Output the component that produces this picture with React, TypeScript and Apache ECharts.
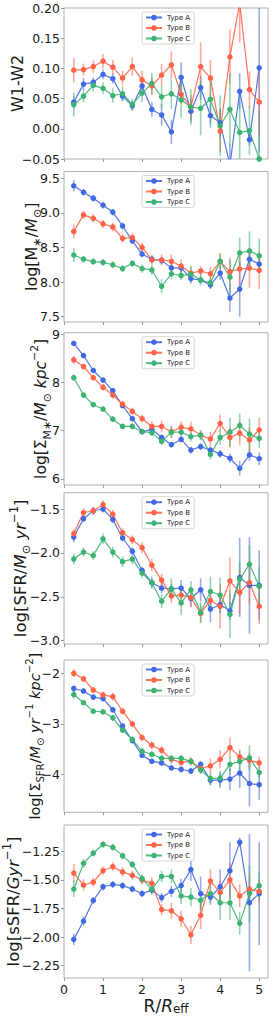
import React, { useEffect, useRef } from "react";
import * as echarts from "echarts";

// radius bins (R / R_eff)
const radii = [0.25, 0.5, 0.75, 1.0, 1.25, 1.5, 1.75, 2.0, 2.25, 2.5, 2.75, 3.0, 3.25, 3.5, 3.75, 4.0, 4.25, 4.5, 4.75, 5.0];
const seriesNames = ["Type A", "Type B", "Type C"];
const xTicks = [0, 1, 2, 3, 4, 5];

// Panel 1: W1-W2
const w12A = [0.044, 0.074, 0.077, 0.090, 0.083, 0.054, 0.038, 0.071, 0.032, 0.023, -0.005, 0.085, 0.029, 0.068, 0.022, 0.010, -0.060, 0.062, -0.018, 0.101];
const w12AErr = [0.010, 0.010, 0.008, 0.008, 0.008, 0.008, 0.008, 0.010, 0.012, 0.018, 0.020, 0.025, 0.018, 0.020, 0.020, 0.025, 0.035, 0.030, 0.010, 0.140];
const w12B = [0.097, 0.098, 0.103, 0.112, 0.102, 0.084, 0.103, 0.081, 0.071, 0.089, 0.106, 0.057, 0.036, 0.103, 0.084, -0.004, 0.119, 0.208, 0.065, 0.044];
const w12BErr = [0.020, 0.010, 0.010, 0.012, 0.012, 0.012, 0.015, 0.015, 0.015, 0.018, 0.022, 0.015, 0.020, 0.040, 0.030, 0.035, 0.045, 0.065, 0.030, 0.060];
const w12C = [0.040, 0.054, 0.072, 0.067, 0.055, 0.058, 0.040, 0.059, 0.075, 0.053, 0.058, 0.048, 0.036, 0.034, 0.049, 0.005, 0.032, -0.006, -0.003, -0.050];
const w12CErr = [0.020, 0.010, 0.010, 0.010, 0.012, 0.012, 0.010, 0.015, 0.018, 0.018, 0.025, 0.030, 0.030, 0.045, 0.040, 0.050, 0.060, 0.050, 0.040, 0.080];
const w12Ticks = [-0.05, 0.0, 0.05, 0.1, 0.15, 0.2];

// Panel 2: log M*
const mA = [9.39, 9.295, 9.21, 9.11, 9.01, 8.81, 8.595, 8.405, 8.33, 8.31, 8.205, 8.205, 8.05, 8.03, 7.96, 8.13, 7.77, 7.90, 8.33, 8.26];
const mAErr = [0.08, 0.05, 0.05, 0.05, 0.05, 0.05, 0.05, 0.05, 0.05, 0.05, 0.05, 0.06, 0.07, 0.05, 0.06, 0.10, 0.20, 0.40, 0.12, 0.08];
const mB = [8.73, 8.97, 8.92, 8.84, 8.795, 8.63, 8.64, 8.50, 8.32, 8.32, 8.30, 8.23, 8.13, 8.16, 8.12, 8.30, 8.15, 8.19, 8.20, 8.17];
const mBErr = [0.10, 0.06, 0.06, 0.06, 0.06, 0.06, 0.07, 0.07, 0.07, 0.08, 0.10, 0.10, 0.08, 0.07, 0.10, 0.12, 0.20, 0.25, 0.28, 0.27];
const mC = [8.39, 8.33, 8.295, 8.285, 8.25, 8.195, 8.27, 8.195, 8.175, 7.94, 8.12, 8.095, 8.115, 8.03, 7.99, 8.30, 8.07, 8.42, 8.45, 8.38];
const mCErr = [0.10, 0.05, 0.05, 0.05, 0.05, 0.05, 0.05, 0.06, 0.07, 0.10, 0.08, 0.07, 0.12, 0.08, 0.08, 0.10, 0.25, 0.22, 0.28, 0.25];
const mTicks = [7.5, 8.0, 8.5, 9.0, 9.5];

// Panel 3: log Sigma_M*
const smA = [8.81, 8.56, 8.25, 8.05, 7.83, 7.52, 7.25, 6.98, 7.03, 6.86, 6.71, 6.82, 6.60, 6.67, 6.60, 6.52, 6.43, 6.22, 6.50, 6.42];
const smAErr = [0.05, 0.04, 0.04, 0.04, 0.04, 0.04, 0.05, 0.05, 0.05, 0.05, 0.05, 0.06, 0.07, 0.07, 0.07, 0.08, 0.10, 0.15, 0.12, 0.13];
const smB = [8.47, 8.33, 8.10, 7.90, 7.74, 7.55, 7.40, 7.25, 7.09, 7.09, 6.98, 7.07, 7.04, 6.91, 6.83, 7.15, 6.86, 6.95, 6.81, 7.02];
const smBErr = [0.08, 0.06, 0.06, 0.07, 0.07, 0.07, 0.08, 0.08, 0.10, 0.12, 0.12, 0.12, 0.15, 0.10, 0.15, 0.18, 0.20, 0.25, 0.25, 0.25];
const smC = [8.10, 7.74, 7.54, 7.45, 7.24, 7.09, 7.09, 6.98, 6.96, 6.78, 6.97, 6.97, 6.88, 6.91, 6.51, 6.86, 6.97, 7.11, 6.93, 6.84];
const smCErr = [0.07, 0.05, 0.05, 0.05, 0.06, 0.06, 0.06, 0.06, 0.07, 0.07, 0.12, 0.10, 0.10, 0.10, 0.10, 0.15, 0.30, 0.25, 0.32, 0.20];
const smTicks = [6, 7, 8, 9];

// Panel 4: log SFR
const sfA = [-1.82, -1.61, -1.52, -1.50, -1.62, -1.83, -1.98, -2.20, -2.34, -2.40, -2.41, -2.40, -2.52, -2.42, -2.64, -2.59, -2.66, -2.28, -2.37, -2.37];
const sfAErr = [0.06, 0.04, 0.04, 0.04, 0.04, 0.04, 0.04, 0.04, 0.05, 0.06, 0.06, 0.09, 0.10, 0.13, 0.15, 0.10, 0.10, 0.45, 0.55, 0.40];
const sfB = [-1.78, -1.54, -1.52, -1.45, -1.56, -1.77, -1.85, -1.94, -2.14, -2.31, -2.49, -2.48, -2.51, -2.69, -2.54, -2.61, -2.32, -2.45, -2.34, -2.61];
const sfBErr = [0.05, 0.05, 0.05, 0.05, 0.05, 0.05, 0.05, 0.06, 0.07, 0.07, 0.08, 0.08, 0.10, 0.10, 0.12, 0.25, 0.27, 0.25, 0.25, 0.20];
const sfC = [-2.07, -1.99, -2.03, -1.84, -1.99, -2.10, -2.07, -2.23, -2.34, -2.55, -2.41, -2.57, -2.42, -2.68, -2.44, -2.48, -2.70, -2.30, -2.13, -2.38];
const sfCErr = [0.06, 0.05, 0.05, 0.06, 0.06, 0.06, 0.06, 0.06, 0.07, 0.08, 0.12, 0.14, 0.10, 0.12, 0.17, 0.20, 0.27, 0.20, 0.22, 0.22];
const sfTicks = [-3.0, -2.5, -2.0, -1.5];

// Panel 5: log Sigma_SFR
const ssA = [-2.30, -2.35, -2.47, -2.50, -2.72, -3.04, -3.33, -3.62, -3.74, -3.77, -3.87, -3.90, -3.93, -3.80, -4.11, -4.11, -4.09, -3.97, -4.18, -4.20];
const ssAErr = [0.06, 0.05, 0.05, 0.05, 0.05, 0.05, 0.05, 0.05, 0.05, 0.05, 0.05, 0.06, 0.06, 0.07, 0.10, 0.15, 0.22, 0.30, 0.45, 0.30];
const ssB = [-2.00, -2.11, -2.33, -2.43, -2.46, -2.75, -3.00, -3.27, -3.42, -3.52, -3.70, -3.76, -3.74, -3.88, -3.83, -3.70, -3.47, -3.65, -3.72, -3.77];
const ssBErr = [0.08, 0.06, 0.06, 0.07, 0.07, 0.07, 0.07, 0.07, 0.08, 0.08, 0.08, 0.08, 0.08, 0.10, 0.15, 0.18, 0.20, 0.15, 0.15, 0.12];
const ssC = [-2.42, -2.58, -2.75, -2.76, -2.88, -3.12, -3.31, -3.54, -3.60, -3.68, -3.68, -3.68, -3.74, -3.91, -4.08, -4.07, -3.80, -3.74, -3.67, -3.96];
const ssCErr = [0.08, 0.05, 0.05, 0.05, 0.06, 0.06, 0.06, 0.06, 0.06, 0.06, 0.07, 0.07, 0.07, 0.08, 0.12, 0.15, 0.15, 0.20, 0.25, 0.12];
const ssTicks = [-4, -3, -2];

// Panel 6: log sSFR
const spA = [-2.02, -1.86, -1.68, -1.56, -1.54, -1.55, -1.58, -1.62, -1.59, -1.655, -1.60, -1.55, -1.41, -1.62, -1.65, -1.56, -1.42, -1.17, -1.70, -1.62];
const spAErr = [0.05, 0.04, 0.03, 0.03, 0.03, 0.03, 0.03, 0.03, 0.03, 0.04, 0.05, 0.06, 0.10, 0.15, 0.05, 0.15, 0.25, 0.04, 0.60, 0.45];
const spB = [-1.44, -1.545, -1.52, -1.42, -1.385, -1.43, -1.46, -1.50, -1.53, -1.76, -1.77, -1.84, -1.98, -1.81, -1.51, -1.61, -1.50, -1.64, -1.58, -1.60];
const spBErr = [0.08, 0.05, 0.04, 0.04, 0.04, 0.04, 0.04, 0.04, 0.05, 0.05, 0.07, 0.07, 0.08, 0.12, 0.10, 0.10, 0.15, 0.10, 0.12, 0.10];
const spC = [-1.58, -1.355, -1.265, -1.19, -1.215, -1.29, -1.365, -1.49, -1.58, -1.47, -1.47, -1.64, -1.65, -1.68, -1.62, -1.70, -1.70, -1.88, -1.62, -1.55];
const spCErr = [0.07, 0.04, 0.03, 0.03, 0.03, 0.03, 0.03, 0.04, 0.05, 0.05, 0.06, 0.07, 0.08, 0.08, 0.10, 0.15, 0.15, 0.10, 0.25, 0.12];
const spTicks = [-2.25, -2.0, -1.75, -1.5, -1.25];

const COLORS = ["#4169E1", "#FF6347", "#3CB371"];
const FONT = "DejaVu Sans";

const GRID_LEFT = 64;
const GRID_WIDTH = 204;

type Panel = {
  top: number;
  height: number;
  min: number;
  max: number;
  ticks: number[];
  decimals: number;
  data: [number[], number[]][];
  label: string;
  labelX: number;
  fs: number;
};

const panels: Panel[] = [
  { top: 8, height: 151, min: -0.05, max: 0.2, ticks: w12Ticks, decimals: 2, data: [[w12A, w12AErr], [w12B, w12BErr], [w12C, w12CErr]], label: "{n|W1-W2}", labelX: 17, fs: 16 },
  { top: 171.5, height: 150.5, min: 7.424, max: 9.596, ticks: mTicks, decimals: 1, data: [[mA, mAErr], [mB, mBErr], [mC, mCErr]], label: "{n|log[M}{sub|∗}{n|/}{i|M}{sub|⊙}{n|]}", labelX: 31, fs: 16 },
  { top: 332.7, height: 152.3, min: 5.875, max: 9.033, ticks: smTicks, decimals: 0, data: [[smA, smAErr], [smB, smBErr], [smC, smCErr]], label: "{n|log[Σ}{sub|M∗}{n|/}{i|M}{sub|⊙}{n| }{i|kpc}{sup|−2}{n|]}", labelX: 41, fs: 15.5 },
  { top: 492.7, height: 151.3, min: -3.038, max: -1.314, ticks: sfTicks, decimals: 1, data: [[sfA, sfAErr], [sfB, sfBErr], [sfC, sfCErr]], label: "{n|log[SFR/}{i|M}{sub|⊙}{n| }{i|yr}{sup|−1}{n|]}", labelX: 20, fs: 16.5 },
  { top: 660, height: 152.3, min: -4.746, max: -1.737, ticks: ssTicks, decimals: 0, data: [[ssA, ssAErr], [ssB, ssBErr], [ssC, ssCErr]], label: "{n|log[Σ}{sub|SFR}{n|/}{i|M}{sub|⊙}{n| }{i|yr}{sup|−1}{n| }{i|kpc}{sup|−2}{n|]}", labelX: 35, fs: 14.5 },
  { top: 825, height: 153, min: -2.358, max: -1.02, ticks: spTicks, decimals: 2, data: [[spA, spAErr], [spB, spBErr], [spC, spCErr]], label: "{n|log[sSFR/}{i|Gyr}{sup|−1}{n|]}", labelX: 13, fs: 16.5 },
];

function richFor(fs: number) {
  const small = Math.round(fs * 0.7 * 10) / 10;
  return {
    n: { fontSize: fs, fontFamily: FONT, fill: "#1a1a1a", lineHeight: fs * 1.5, verticalAlign: "middle" },
    i: { fontSize: fs, fontFamily: FONT, fontStyle: "italic", fill: "#1a1a1a", lineHeight: fs * 1.5, verticalAlign: "middle" },
    sub: { fontSize: small, fontFamily: FONT, fill: "#1a1a1a", lineHeight: small, verticalAlign: "bottom" },
    sup: { fontSize: small, fontFamily: FONT, fill: "#1a1a1a", lineHeight: small, verticalAlign: "top" },
  };
}

function richX(fs: number) {
  const small = Math.round(fs * 0.7 * 10) / 10;
  return {
    n: { fontSize: fs, fontFamily: FONT, fill: "#1a1a1a", lineHeight: fs * 1.05, verticalAlign: "top" },
    i: { fontSize: fs, fontFamily: FONT, fontStyle: "italic", fill: "#1a1a1a", lineHeight: fs * 1.05, verticalAlign: "top" },
    sub: { fontSize: small, fontFamily: FONT, fill: "#1a1a1a", lineHeight: small, verticalAlign: "bottom" },
  };
}

function fmt(v: number, d: number) {
  return v.toFixed(d).replace("-", "\u2212");
}

function buildOption() {
  const grid: any[] = [];
  const xAxis: any[] = [];
  const yAxis: any[] = [];
  const series: any[] = [];
  const legend: any[] = [];
  const graphic: any[] = [];

  panels.forEach((p, i) => {
    const isLast = i === panels.length - 1;
    grid.push({
      left: GRID_LEFT,
      width: GRID_WIDTH,
      top: p.top,
      height: p.height,
      show: true,
      borderColor: "#b0b0b0",
      borderWidth: 1,
      backgroundColor: "transparent",
    });
    xAxis.push({
      type: "value",
      gridIndex: i,
      min: 0,
      max: 5.225,
      axisLine: { show: false, onZero: false },
      splitLine: { show: false },
      axisTick: { show: true, length: 3, customValues: xTicks, lineStyle: { color: "#999" } },
      axisLabel: {
        show: isLast,
        customValues: xTicks,
        showMinLabel: true,
        showMaxLabel: true,
        margin: 5,
        fontSize: 12.5,
        fontFamily: FONT,
        color: "#1a1a1a",
        formatter: (v: number) => String(Math.round(v)),
      },
    });
    yAxis.push({
      type: "value",
      gridIndex: i,
      min: p.min,
      max: p.max,
      axisLine: { show: false, onZero: false },
      splitLine: { show: false },
      axisTick: { show: true, length: 3, customValues: p.ticks, lineStyle: { color: "#999" } },
      axisLabel: {
        customValues: p.ticks,
        margin: 4,
        fontSize: 12.5,
        fontFamily: FONT,
        color: "#1a1a1a",
        formatter: (v: number) => fmt(v, p.decimals),
      },
    });

    p.data.forEach(([vals, errs], k) => {
      const color = COLORS[k];
      series.push({
        type: "custom",
        name: `err-${i}-${k}`,
        xAxisIndex: i,
        yAxisIndex: i,
        clip: true,
        silent: true,
        data: radii.map((r, j) => [r, vals[j], errs[j]]),
        encode: { x: 0, y: 1 },
        renderItem: (_params: any, api: any) => {
          const x = api.value(0);
          const y = api.value(1);
          const e = api.value(2);
          const a = api.coord([x, y - e]);
          const b = api.coord([x, y + e]);
          return {
            type: "line",
            shape: { x1: a[0], y1: a[1], x2: b[0], y2: b[1] },
            style: { stroke: color, lineWidth: 1.6, opacity: 0.55 },
          };
        },
      });
      series.push({
        type: "line",
        name: seriesNames[k],
        xAxisIndex: i,
        yAxisIndex: i,
        data: radii.map((r, j) => [r, vals[j]]),
        symbol: "circle",
        symbolSize: 5.5,
        showSymbol: true,
        clip: true,
        lineStyle: { color, width: 1.2, opacity: 0.9 },
        itemStyle: { color },
        emphasis: { disabled: true },
      });
    });

    legend.push({
      show: true,
      orient: "vertical",
      left: 142,
      top: p.top + 4,
      data: seriesNames,
      itemWidth: 16,
      itemHeight: 7,
      itemGap: 3.5,
      padding: [2, 4, 2, 3],
      selectedMode: false,
      textStyle: { fontSize: 7, fontFamily: FONT, color: "#222", lineHeight: 7 },
      borderColor: "#cccccc",
      borderWidth: 0.8,
      borderRadius: 2,
      backgroundColor: "rgba(255,255,255,0.8)",
    });

    graphic.push({
      type: "text",
      x: p.labelX,
      y: p.top + p.height / 2,
      rotation: Math.PI / 2,
      style: {
        text: p.label,
        rich: richFor(p.fs),
        align: "center",
        verticalAlign: "middle",
        fontFamily: FONT,
        fontSize: p.fs,
        fill: "#1a1a1a",
      },
    });
  });

  graphic.push({
    type: "text",
    x: 166,
    y: 997,
    style: {
      text: "{n|R/}{i|R}{sub|eff}",
      rich: richX(17),
      align: "center",
      verticalAlign: "top",
      fontFamily: FONT,
      fontSize: 17,
      fill: "#1a1a1a",
    },
  });

  return {
    animation: false,
    backgroundColor: "#ffffff",
    grid,
    xAxis,
    yAxis,
    series,
    legend,
    graphic,
  };
}

export default function App() {
  const ref = useRef<HTMLDivElement>(null);
  useEffect(() => {
    const chart = echarts.init(ref.current!, null, { renderer: "svg" });
    chart.setOption(buildOption() as any);
    return () => chart.dispose();
  }, []);
  return (
    <div
      ref={ref}
      style={{ position: "fixed", left: 0, top: 0, width: 274, height: 1017, background: "#fff" }}
    />
  );
}
